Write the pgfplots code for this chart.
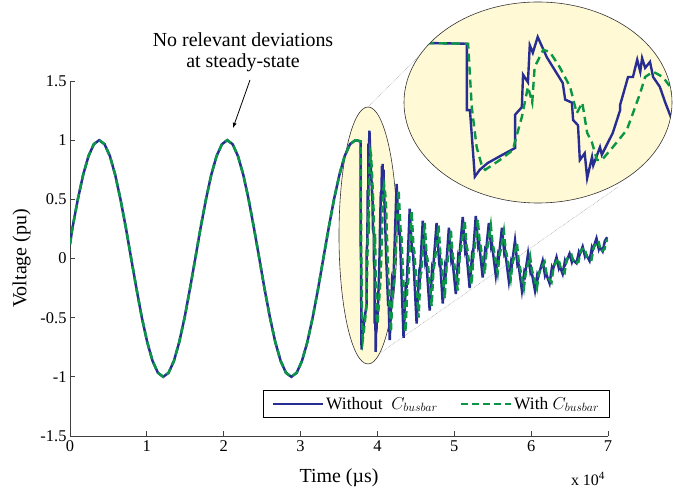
\documentclass[border=0pt]{standalone}
\usepackage{fontspec}
\setmainfont{Liberation Serif}
\usepackage{pgfplots}
\usepackage{pgfplotstable}
\pgfplotsset{compat=1.18}
\definecolor{myblue}{RGB}{40,45,145}
\definecolor{mygreen}{RGB}{10,150,70}
\definecolor{ellfill}{RGB}{255,249,214}

\pgfplotstableread{
x y
0.000 0.12
0.032 0.259
0.102 0.500
0.171 0.707
0.241 0.866
0.310 0.966
0.380 1.000
0.449 0.966
0.519 0.866
0.588 0.707
0.657 0.500
0.727 0.259
0.796 0.000
0.866 -0.259
0.935 -0.500
1.005 -0.707
1.074 -0.866
1.144 -0.966
1.213 -1.000
1.282 -0.966
1.352 -0.866
1.421 -0.707
1.491 -0.500
1.560 -0.259
1.630 0.000
1.699 0.259
1.769 0.500
1.838 0.707
1.907 0.866
1.977 0.966
2.046 1.000
2.116 0.966
2.185 0.866
2.255 0.707
2.324 0.500
2.393 0.259
2.463 0.000
2.532 -0.259
2.602 -0.500
2.671 -0.707
2.741 -0.866
2.810 -0.966
2.880 -1.000
2.949 -0.966
3.018 -0.866
3.088 -0.707
3.157 -0.500
3.227 -0.259
3.296 0.000
3.366 0.259
3.435 0.500
3.505 0.707
3.574 0.866
3.643 0.966
3.713 1.000
}\sinedata

\pgfplotstableread{
x y
3.713 1.00
3.780 0.99
3.780 0.11
3.785 0.11
3.793 -0.77
3.801 -0.68
3.814 -0.59
3.834 -0.50
3.859 -0.39
3.859 0.05
3.870 0.15
3.872 0.58
3.880 0.48
3.883 0.97
3.888 0.87
3.896 1.08
3.911 0.81
3.937 0.47
3.941 0.25
3.952 0.21
3.954 -0.02
3.962 -0.09
3.965 -0.55
3.973 -0.46
3.977 -0.79
3.985 -0.51
3.987 -0.62
3.998 -0.38
4.001 -0.48
4.019 -0.19
4.031 0.11
4.031 0.18
4.044 0.55
4.052 0.55
4.059 0.78
4.064 0.62
4.067 0.80
4.072 0.67
4.080 0.75
4.085 0.55
4.096 0.42
4.105 0.21
4.116 -0.02
4.140 -0.40
4.145 -0.35
4.160 -0.69
4.190 -0.20
4.205 -0.25
4.250 0.63
4.280 0.20
4.290 0.25
4.340 -0.67
4.370 -0.20
4.380 -0.25
4.420 0.42
4.450 0.05
4.460 0.10
4.510 -0.55
4.540 -0.15
4.550 -0.18
4.590 0.32
4.620 0.00
4.630 0.04
4.680 -0.44
4.710 -0.10
4.720 -0.13
4.770 0.30
4.800 0.00
4.810 0.03
4.850 -0.38
4.880 -0.08
4.890 -0.11
4.930 0.26
4.960 0.00
4.970 0.03
5.020 -0.30
5.050 0.00
5.060 -0.03
5.110 0.35
5.140 0.08
5.150 0.11
5.200 -0.25
5.230 0.02
5.240 0.00
5.280 0.36
5.310 0.12
5.320 0.15
5.370 -0.16
5.400 0.06
5.410 0.04
5.450 0.30
5.480 0.10
5.490 0.12
5.540 -0.14
5.570 0.03
5.580 0.01
5.620 0.26
5.650 0.05
5.660 0.07
5.710 -0.19
5.740 -0.03
5.750 -0.05
5.790 0.15
5.820 -0.04
5.830 -0.02
5.880 -0.27
5.910 -0.12
5.920 -0.14
5.960 0.04
5.990 -0.11
6.000 -0.09
6.050 -0.27
6.080 -0.14
6.090 -0.16
6.150 -0.02
6.180 -0.14
6.190 -0.12
6.240 -0.21
6.270 -0.08
6.280 -0.10
6.330 0.01
6.360 -0.08
6.370 -0.06
6.410 -0.13
6.440 -0.02
6.450 -0.04
6.500 0.04
6.530 -0.03
6.540 -0.01
6.590 -0.04
6.620 0.05
6.630 0.03
6.670 0.10
6.700 0.02
6.710 0.04
6.760 -0.02
6.790 0.09
6.800 0.07
6.850 0.17
6.880 0.08
6.890 0.10
6.930 0.06
6.960 0.15
6.990 0.18
}\bluedata

\pgfplotstableread{
x y
3.713 1.00
3.782 0.99
3.788 0.15
3.796 -0.38
3.805 -0.64
3.810 -0.68
3.834 -0.55
3.855 -0.42
3.870 0.02
3.880 0.42
3.887 0.21
3.891 0.68
3.905 0.91
3.916 0.88
3.932 0.68
3.949 0.42
3.960 0.07
3.969 0.21
3.977 -0.19
3.985 -0.32
3.993 -0.55
4.001 -0.55
4.019 -0.38
4.042 -0.15
4.052 0.07
4.064 0.34
4.072 0.55
4.085 0.62
4.101 0.55
4.113 0.42
4.130 0.05
4.150 -0.30
4.175 -0.62
4.200 -0.25
4.215 -0.22
4.275 0.58
4.300 0.25
4.310 0.22
4.365 -0.62
4.390 -0.22
4.400 -0.20
4.445 0.40
4.470 0.08
4.480 0.06
4.535 -0.50
4.560 -0.14
4.570 -0.12
4.615 0.30
4.640 0.02
4.650 0.00
4.705 -0.40
4.730 -0.08
4.740 -0.06
4.795 0.28
4.820 0.02
4.830 0.00
4.875 -0.34
4.900 -0.06
4.910 -0.04
4.955 0.24
4.980 0.02
4.990 0.00
5.045 -0.27
5.070 0.02
5.080 0.04
5.135 0.32
5.160 0.10
5.170 0.08
5.225 -0.22
5.250 0.04
5.260 0.06
5.305 0.33
5.330 0.14
5.340 0.12
5.395 -0.13
5.420 0.07
5.430 0.09
5.475 0.28
5.500 0.11
5.510 0.09
5.565 -0.12
5.590 0.04
5.600 0.06
5.645 0.23
5.670 0.06
5.680 0.04
5.735 -0.17
5.760 -0.03
5.770 -0.01
5.815 0.13
5.840 -0.04
5.850 -0.06
5.905 -0.25
5.930 -0.12
5.940 -0.10
5.985 0.02
6.010 -0.10
6.020 -0.12
6.075 -0.25
6.100 -0.13
6.110 -0.11
6.175 -0.03
6.200 -0.13
6.210 -0.15
6.265 -0.20
6.290 -0.08
6.300 -0.06
6.355 0.00
6.380 -0.07
6.390 -0.09
6.435 -0.12
6.460 -0.02
6.470 0.00
6.525 0.03
6.550 -0.02
6.560 -0.04
6.615 -0.03
6.640 0.05
6.650 0.07
6.695 0.09
6.720 0.02
6.730 0.00
6.785 -0.01
6.810 0.08
6.820 0.10
6.875 0.15
6.900 0.08
6.910 0.06
6.955 0.08
6.980 0.15
7.000 0.16
}\greendata

\begin{document}
\begin{tikzpicture}[x=1bp,y=1bp]
\useasboundingbox (0,0) rectangle (673,492);
% small ellipse
\filldraw[fill=ellfill, draw=black!80, line width=0.6pt] (368,256.5) ellipse (29 and 128.5);
% dotted connecting lines
\draw[gray!70, densely dotted, line width=0.6pt] (368,385) -- (430,447);
\draw[gray!70, densely dotted, line width=0.6pt] (380,139) -- (618,305);

\begin{axis}[
  at={(70bp,56bp)}, anchor=south west,
  scale only axis, width=538bp, height=355bp,
  xmin=0, xmax=7, ymin=-1.5, ymax=1.5,
  axis lines*=left,
  axis line style={black!75, line width=0.8pt},
  tick style={black!75, line width=0.8pt},
  tick align=inside, major tick length=5bp,
  xtick={0,1,2,3,4,5,6,7},
  ytick={-1.5,-1,-0.5,0,0.5,1,1.5},
  scaled x ticks=false,
  /pgf/number format/assume math mode=true,
  tick label style={font=\fontsize{16.5}{18}\selectfont},
  xticklabel style={yshift=-1bp},
  xlabel={Time (µs)}, ylabel={Voltage (pu)},
  label style={font=\fontsize{20}{22}\selectfont},
  xlabel style={at={(axis description cs:0.5,-0.118)}, anchor=center},
  ylabel style={at={(axis description cs:-0.09,0.5)}, anchor=center},
  legend columns=2,
  legend style={at={(rel axis cs:1.003,0.05)}, anchor=south east,
    draw=black, line width=0.9pt, fill=white,
    font=\fontsize{17.5}{19}\selectfont,
    inner xsep=8bp, inner ysep=5bp,
    /tikz/every even column/.append style={column sep=20bp}},
  legend image code/.code={\draw[#1] (0bp,0bp) -- (50bp,0bp);},
]
\addplot[myblue, line width=2.5pt, forget plot] table[x=x,y=y] {\sinedata};
\addplot[myblue, line width=2.5pt] table[x=x,y=y] {\bluedata};
\addlegendentry{Without\ \ $C_{busbar}$}
\addplot[mygreen, line width=2.5pt, dash pattern=on 7bp off 4bp, forget plot] table[x=x,y=y] {\sinedata};
\addplot[mygreen, line width=2.5pt, dash pattern=on 7bp off 4bp] table[x=x,y=y] {\greendata};
\addlegendentry{With $C_{busbar}$}
\end{axis}

% inset
\fill[ellfill] (538,389.5) ellipse (134 and 100.5);
\begin{scope}
\clip (538,389.5) ellipse (134 and 100.5);
\begin{axis}[
  at={(538bp,389.5bp)}, anchor=center,
  scale only axis, width=268bp, height=201bp,
  xmin=3.677, xmax=4.116, ymin=-1.119, ymax=1.543,
  hide axis, clip=false,
]
\addplot[myblue, line width=2.4pt] table[x=x,y=y] {\sinedata};
\addplot[myblue, line width=2.4pt] table[x=x,y=y] {\bluedata};
\addplot[mygreen, line width=2.4pt, dash pattern=on 8bp off 5bp] table[x=x,y=y] {\sinedata};
\addplot[mygreen, line width=2.4pt, dash pattern=on 8bp off 5bp] table[x=x,y=y] {\greendata};
\end{axis}
\end{scope}
\draw[black!80, line width=0.6pt] (538,389.5) ellipse (134 and 100.5);

% annotation
\node[align=center, font=\fontsize{20}{21}\selectfont] at (243,440) {No relevant deviations\\at steady-state};
\draw[-latex, line width=0.8pt] (250,412) -- (233,364);

\node[font=\fontsize{16}{18}\selectfont] at (588,13) {x 10\textsuperscript{4}};
\end{tikzpicture}
\end{document}
